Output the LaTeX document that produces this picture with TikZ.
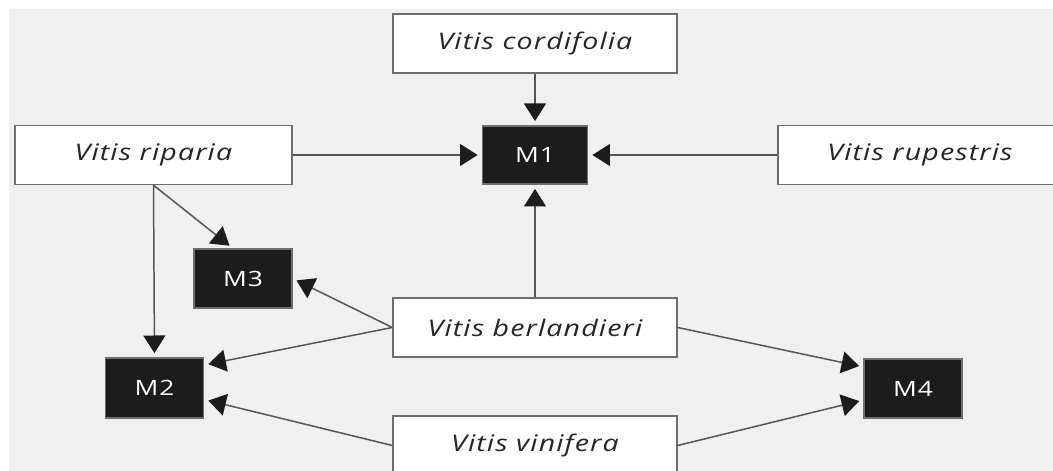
\documentclass[tikz,border=0pt]{standalone}
\usepackage{fontspec}
\setmainfont{Open Sans}
\newfontfamily\widefont[FakeStretch=1.25, LetterSpace=5]{Open Sans}
\usepackage{xcolor}
\usepackage{tikz}
\usetikzlibrary{positioning,arrows.meta,calc}
\definecolor{cBack}{HTML}{F0F0F0}
\definecolor{cLine}{HTML}{555555}
\definecolor{cEdge}{HTML}{6E6E6E}
\definecolor{cDark}{HTML}{1C1C1C}
\definecolor{cText}{HTML}{262626}
\tikzset{
  fig/species/.style={draw=cEdge, line width=0.8pt, fill=white, text=cText,
                      minimum width=5.68cm, minimum height=1.18cm, inner sep=0pt,
                      font=\fontsize{13}{15}\widefont\itshape},
  fig/cross/.style  ={draw=cEdge, line width=0.6pt, fill=cDark, text=white,
                      minimum width=1.96cm, minimum height=1.18cm, inner sep=0pt,
                      font=\fontsize{12}{14}\widefont},
  fig/arr/.style    ={-{Triangle[length=10pt, width=12.5pt, color=cDark]},
                      line width=0.85pt, cLine, shorten >=2.5pt}
}
\begin{document}
\begin{tikzpicture}
    % page frame and grey panel
    \useasboundingbox (0,0) rectangle (21.06,9.42);
    \clip (0,0) rectangle (21.06,9.42);
    \fill[cBack] (0.18,0) rectangle (21.06,9.24);
    % parent species
    \node[fig/species] (cord) at (10.70,8.55) {Vitis cordifolia};
    \node[fig/species, minimum width=5.54cm] (rip) at (3.07,6.32) {Vitis riparia};
    \node[fig/species] (rup)  at (18.40,6.32) {Vitis rupestris};
    \node[fig/species] (berl) at (10.70,2.87) {Vitis berlandieri};
    \node[fig/species] (vin)  at (10.70,0.51) {Vitis vinifera};
    % crosses
    \node[fig/cross, minimum width=2.10cm, minimum height=1.16cm] (M1) at (10.70,6.32) {M1};
    \node[fig/cross] (M3) at (4.86,3.85) {M3};
    \node[fig/cross, minimum height=1.20cm] (M2) at (3.09,1.66) {M2};
    \node[fig/cross] (M4) at (18.26,1.65) {M4};
    % into M1
    \draw[fig/arr] (cord.south) -- (M1.north);
    \draw[fig/arr] (rip.east) -- (M1.west);
    \draw[fig/arr] (rup.west) -- (M1.east);
    \draw[fig/arr] (berl.north) -- (M1.south);
    % riparia down to M2 and M3
    \draw[fig/arr] (rip.south) -- (M2.north);
    \draw[fig/arr] (rip.south) -- ([xshift=-0.20cm]M3.north);
    % berlandieri and vinifera to the lower crosses
    \draw[fig/arr] (berl.west) -- (M3.east);
    \draw[fig/arr] (berl.west) -- ([yshift=0.46cm]M2.east);
    \draw[fig/arr] (vin.west)  -- ([yshift=-0.23cm]M2.east);
    \draw[fig/arr] (berl.east) -- ([yshift=0.43cm]M4.west);
    \draw[fig/arr] (vin.east)  -- ([yshift=-0.23cm]M4.west);
\end{tikzpicture}
\end{document}
